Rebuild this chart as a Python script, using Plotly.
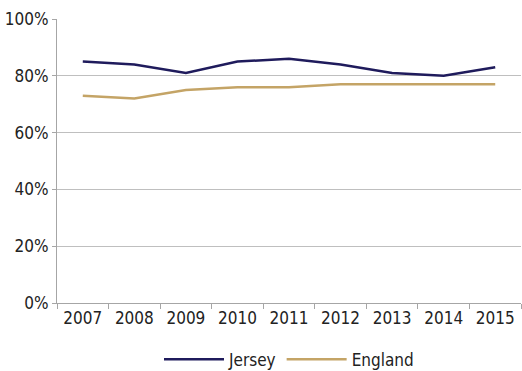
import plotly.graph_objects as go

years = ["2007", "2008", "2009", "2010", "2011", "2012", "2013", "2014", "2015"]
jersey = [85, 84, 81, 85, 86, 84, 81, 80, 83]
england = [73, 72, 75, 76, 76, 77, 77, 77, 77]

FONT = "DejaVu Sans Condensed, Liberation Sans Narrow, sans-serif"

fig = go.Figure()
fig.add_trace(go.Scatter(x=years, y=jersey, mode="lines", name="Jersey",
                         line=dict(color="#1f1b5c", width=2.5)))
fig.add_trace(go.Scatter(x=years, y=england, mode="lines", name="England",
                         line=dict(color="#c4a466", width=2.5)))

fig.update_layout(
    width=522, height=371,
    margin=dict(l=57, r=1, t=19, b=68, autoexpand=False),
    paper_bgcolor="white", plot_bgcolor="white",
    font=dict(family=FONT, size=17, color="#222222"),
    showlegend=True,
    legend=dict(orientation="h", x=0.5, xanchor="center", y=-0.2, yanchor="middle",
                font=dict(size=17), itemwidth=60),
    xaxis=dict(type="category", showgrid=False, showline=True, linecolor="#a6a6a6",
               linewidth=1, ticks="outside", tickson="boundaries", ticklen=5,
               tickcolor="#a6a6a6", range=[-0.5, 8.5]),
    yaxis=dict(range=[0, 100], tickvals=[0, 20, 40, 60, 80, 100],
               ticktext=["0%", "20%", "40%", "60%", "80%", "100%"],
               showgrid=True, gridcolor="#bfbfbf", gridwidth=1.3,
               showline=True, linecolor="#a6a6a6", linewidth=1,
               ticks="outside", ticklen=4, tickcolor="#a6a6a6", zeroline=False),
)

fig.write_html("out.html")
